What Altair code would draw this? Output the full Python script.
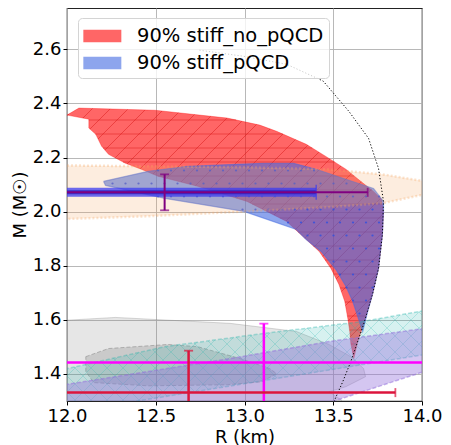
import altair as alt
import pandas as pd
import numpy as np

# ---------------- data ----------------
X0, X1 = 12.0, 14.0
Y0, Y1 = 1.3, 2.753

RED_R = [12.067, 12.496, 12.903, 13.086, 13.181, 13.348, 13.476, 13.571, 13.655, 13.727, 13.772,
         13.783, 13.777, 13.755, 13.721, 13.671, 13.638, 13.616,
         13.599, 13.593, 13.582, 13.565, 13.532, 13.487, 13.421, 13.348, 13.237, 13.014, 12.735,
         12.513, 12.418, 12.329, 12.234, 12.195, 12.162, 12.123, 12.123, 12.000]
RED_M = [2.383, 2.375, 2.346, 2.320, 2.297, 2.249, 2.197, 2.157, 2.112, 2.075, 2.046,
         2.001, 1.916, 1.790, 1.694, 1.583, 1.520, 1.457,
         1.512, 1.557, 1.605, 1.668, 1.731, 1.790, 1.853, 1.897, 1.964, 2.038, 2.094,
         2.131, 2.157, 2.179, 2.212, 2.242, 2.286, 2.309, 2.342, 2.357]

BLUE_R = [12.206, 12.457, 12.680, 12.958, 13.109, 13.276, 13.404, 13.571, 13.727, 13.783,
          13.783, 13.777, 13.755, 13.721, 13.694, 13.666, 13.638, 13.610, 13.571, 13.515,
          13.432, 13.348, 13.292, 12.997, 12.552, 12.217]
BLUE_M = [2.112, 2.149, 2.168, 2.175, 2.179, 2.179, 2.157, 2.120, 2.086, 2.038,
          2.001, 1.916, 1.790, 1.694, 1.631, 1.557, 1.612, 1.668, 1.724, 1.786,
          1.853, 1.897, 1.934, 2.001, 2.049, 2.097]

PEACH_R = [11.955, 12.457, 13.014, 13.460, 13.777, 14.045, 14.045, 13.777, 13.460, 13.014, 12.457, 11.955]
PEACH_M = [2.171, 2.168, 2.164, 2.157, 2.138, 2.109, 2.068, 2.031, 2.016, 2.001, 1.983, 1.972]

TEAL_R = [11.955, 12.551, 13.109, 13.666, 14.045, 14.045, 11.955]
TEAL_M = [1.413, 1.501, 1.550, 1.594, 1.638, 1.475, 1.253]

PURPLE_R = [11.955, 12.919, 13.476, 14.045, 14.045, 13.460, 11.955]
PURPLE_M = [1.357, 1.457, 1.520, 1.571, 1.416, 1.290, 0.964]

GRAY1_R = [11.955, 12.273, 12.919, 13.292, 13.476, 13.599, 13.671, 13.682, 13.571, 13.476, 13.543, 13.599, 11.955]
GRAY1_M = [1.597, 1.609, 1.587, 1.557, 1.509, 1.464, 1.420, 1.390, 1.353, 1.334, 1.305, 1.260, 1.260]

GRAY2_R = [12.106, 12.234, 12.568, 12.735, 12.975, 13.142, 13.181, 13.097, 12.903, 12.457, 12.150, 12.106]
GRAY2_M = [1.464, 1.494, 1.509, 1.501, 1.457, 1.420, 1.401, 1.371, 1.360, 1.356, 1.368, 1.409]

CURVE_R = [12.746, 12.99, 13.237, 13.443, 13.588, 13.699, 13.755, 13.783, 13.777, 13.755, 13.721,
           13.671, 13.599, 13.554, 13.504, 13.49]
CURVE_M = [2.597, 2.575, 2.545, 2.483, 2.371, 2.271, 2.160, 2.038, 1.916, 1.790, 1.694,
           1.583, 1.446, 1.372, 1.298, 1.27]

LEG_NAMES = ["90% stiff_no_pQCD", "90% stiff_pQCD"]

# error bars: centre, horizontal range, vertical range
PURPLE_EB = dict(r=12.55, m=2.0715, r_lo=11.5, r_hi=13.694, m_lo=2.005, m_hi=2.138)
BLUE_BAR = dict(m=2.0715, r_lo=11.5, r_hi=13.404)
MAGENTA_EB = dict(r=13.109, m=1.442, r_lo=11.5, r_hi=14.5, m_lo=1.2, m_hi=1.586)
CRIMSON_EB = dict(r=12.685, m=1.331, r_lo=11.5, r_hi=13.85, m_lo=1.2, m_hi=1.486)

# ---------------- helpers ----------------
W, H = 355, 393
SX = W / (X1 - X0)
SY = H / (Y1 - Y0)


def to_px(R, M):
    return (np.asarray(R) - X0) * SX, (Y1 - np.asarray(M)) * SY


def from_px(X, Y):
    return np.asarray(X) / SX + X0, Y1 - np.asarray(Y) / SY


def hatch(R, M, direction, step):
    X, Y = to_px(R, M)
    n = len(X)
    if direction == "/":
        u = X + Y
    elif direction == "\\":
        u = Y - X
    else:
        u = Y
    rows = []
    c = np.floor(u.min() / step) * step
    while c <= u.max():
        xs = []
        for k in range(n):
            j = (k + 1) % n
            u1, u2 = u[k], u[j]
            if (u1 <= c < u2) or (u2 <= c < u1):
                f = (c - u1) / (u2 - u1)
                xs.append(X[k] + f * (X[j] - X[k]))
        xs.sort()
        for a, b in zip(xs[0::2], xs[1::2]):
            if direction == "/":
                ya, yb = c - a, c - b
            elif direction == "\\":
                ya, yb = c + a, c + b
            else:
                ya = yb = c
            ra, ma = from_px(a, ya)
            rb, mb = from_px(b, yb)
            rows.append(dict(r=float(ra), m=float(ma), r2=float(rb), m2=float(mb)))
        c += step
    return pd.DataFrame(rows)


def inside(px, py, X, Y):
    n = len(X)
    res = False
    j = n - 1
    for i in range(n):
        if (Y[i] > py) != (Y[j] > py):
            xint = (X[j] - X[i]) * (py - Y[i]) / (Y[j] - Y[i]) + X[i]
            if px < xint:
                res = not res
        j = i
    return res


def dots(R, M, step):
    X, Y = to_px(R, M)
    pts = []
    row = 0
    for py in np.arange(step / 2, H, step):
        off = (step / 2) if row % 2 else 0
        for px in np.arange(off, W, step):
            if inside(px, py, X, Y):
                r, m = from_px(px, py)
                pts.append(dict(r=float(r), m=float(m)))
        row += 1
    return pd.DataFrame(pts)


xs = alt.Scale(domain=[X0, X1], nice=False, zero=False, padding=0)
ys = alt.Scale(domain=[Y0, Y1], nice=False, zero=False, padding=0)
fill_scale = alt.Scale(domain=LEG_NAMES, range=["red", "royalblue"])

# legend symbol: a 3:1 rectangle anchored at the left of its layout box
legend = alt.Legend(
    orient="none", legendX=11, legendY=10, title=None,
    symbolType="M-1,-0.5H2V0.5H-1Z", symbolSize=642, symbolOpacity=0.6,
    symbolStrokeWidth=0, labelFontSize=19.5, labelFont="DejaVu Sans", labelColor="black",
    labelOffset=28, padding=5, rowPadding=4, cornerRadius=4, strokeColor="#d4d4d4",
    fillColor="rgba(255,255,255,0.8)", labelLimit=400,
)

X_AX = alt.X("r:Q", scale=xs, title="R (km)",
             axis=alt.Axis(values=[12.0, 12.5, 13.0, 13.5, 14.0], format=".1f"))
Y_AX = alt.Y("m:Q", scale=ys, title="M (M☉)",
             axis=alt.Axis(values=[1.4, 1.6, 1.8, 2.0, 2.2, 2.4, 2.6], format=".1f"))


def poly(R, M, name=None, **mark):
    df = pd.DataFrame({"r": list(R) + [R[0]], "m": list(M) + [M[0]],
                       "i": list(range(len(R) + 1))})
    enc = dict(x=X_AX, y=Y_AX, order=alt.Order("i:Q"))
    if name is not None:
        df["name"] = name
        enc["fill"] = alt.Fill("name:N", scale=fill_scale, legend=legend)
    return alt.Chart(df).mark_line(filled=True, clip=True, **mark).encode(**enc)


def segs(df, **mark):
    return alt.Chart(df).mark_rule(clip=True, **mark).encode(
        x=alt.X("r:Q", scale=xs), y=alt.Y("m:Q", scale=ys),
        x2="r2:Q", y2="m2:Q")


layers = []
# red region
layers.append(poly(RED_R, RED_M, name=LEG_NAMES[0], fillOpacity=0.6, stroke="red",
                   strokeOpacity=0.4, strokeWidth=0.8))
layers.append(segs(hatch(RED_R, RED_M, "/", 18), stroke="#d81818", strokeOpacity=0.55, strokeWidth=0.9))
layers.append(segs(hatch(RED_R, RED_M, "-", 14), stroke="#d81818", strokeOpacity=0.55, strokeWidth=0.9))
# blue region
layers.append(poly(BLUE_R, BLUE_M, name=LEG_NAMES[1], fillOpacity=0.6, stroke="royalblue",
                   strokeOpacity=0.5, strokeWidth=1.2))
layers.append(alt.Chart(dots(BLUE_R, BLUE_M, 13)).mark_circle(size=5, color="#3050e0", opacity=0.8, clip=True)
              .encode(x=alt.X("r:Q", scale=xs), y=alt.Y("m:Q", scale=ys)))
# gray regions
layers.append(poly(GRAY1_R, GRAY1_M, fill="gray", fillOpacity=0.2, stroke="gray",
                   strokeOpacity=0.3, strokeWidth=1))
layers.append(poly(GRAY2_R, GRAY2_M, fill="dimgray", fillOpacity=0.22, stroke="gray",
                   strokeOpacity=0.5, strokeWidth=1, strokeDash=[4, 2]))
# teal band
layers.append(poly(TEAL_R, TEAL_M, fill="lightseagreen", fillOpacity=0.18, stroke="lightseagreen",
                   strokeOpacity=0.35, strokeWidth=1.5, strokeDash=[4, 2]))
layers.append(segs(hatch(TEAL_R, TEAL_M, "/", 16), stroke="lightseagreen", strokeOpacity=0.3, strokeWidth=0.8))
layers.append(segs(hatch(TEAL_R, TEAL_M, "\\", 16), stroke="lightseagreen", strokeOpacity=0.3, strokeWidth=0.8))
# purple band
layers.append(poly(PURPLE_R, PURPLE_M, fill="mediumpurple", fillOpacity=0.4, stroke="mediumpurple",
                   strokeOpacity=0.5, strokeWidth=1.5, strokeDash=[4, 2]))
# peach band
layers.append(poly(PEACH_R, PEACH_M, fill="sandybrown", fillOpacity=0.2, stroke="sandybrown",
                   strokeOpacity=0.3, strokeWidth=2.5, strokeDash=[2, 2]))

# causality-like dotted curve
curve = pd.DataFrame({"r": CURVE_R, "m": CURVE_M, "i": range(len(CURVE_R))})
layers.append(alt.Chart(curve).mark_line(color="black", strokeWidth=1, strokeDash=[1.2, 2], clip=True)
              .encode(x=alt.X("r:Q", scale=xs), y=alt.Y("m:Q", scale=ys), order="i:Q"))


def hbar(d, color, width, opacity=1.0):
    df = pd.DataFrame([dict(r=d["r_lo"], r2=d["r_hi"], m=d["m"])])
    return alt.Chart(df).mark_rule(color=color, strokeWidth=width, opacity=opacity, clip=True).encode(
        x=alt.X("r:Q", scale=xs), x2="r2:Q", y=alt.Y("m:Q", scale=ys))


def vbar(d, color, width):
    df = pd.DataFrame([dict(r=d["r"], m=d["m_lo"], m2=d["m_hi"])])
    return alt.Chart(df).mark_rule(color=color, strokeWidth=width, clip=True).encode(
        x=alt.X("r:Q", scale=xs), y=alt.Y("m:Q", scale=ys), y2="m2:Q")


def cap(r, m, color, orient, size, width=1.8):
    df = pd.DataFrame([dict(r=r, m=m)])
    return alt.Chart(df).mark_tick(color=color, orient=orient, size=size, thickness=width, clip=True).encode(
        x=alt.X("r:Q", scale=xs), y=alt.Y("m:Q", scale=ys))


# blue thick bar + purple errorbar
layers.append(hbar(BLUE_BAR, "#3c3cf0", 9, 0.75))
layers.append(hbar(BLUE_BAR, "#2a1fc0", 4, 0.8))
layers.append(cap(BLUE_BAR["r_hi"], BLUE_BAR["m"], "#3c3cf0", "vertical", 15, 1.5))
layers.append(hbar(PURPLE_EB, "purple", 2))
layers.append(vbar(PURPLE_EB, "purple", 2))
layers.append(cap(PURPLE_EB["r"], PURPLE_EB["m_hi"], "purple", "horizontal", 9))
layers.append(cap(PURPLE_EB["r"], PURPLE_EB["m_lo"], "purple", "horizontal", 9))
layers.append(cap(PURPLE_EB["r_hi"], PURPLE_EB["m"], "purple", "vertical", 9))
# magenta cross
layers.append(hbar(MAGENTA_EB, "magenta", 2.5))
layers.append(vbar(MAGENTA_EB, "magenta", 2.5))
layers.append(cap(MAGENTA_EB["r"], MAGENTA_EB["m_hi"], "magenta", "horizontal", 9))
# crimson cross
layers.append(hbar(CRIMSON_EB, "crimson", 2.5))
layers.append(vbar(CRIMSON_EB, "crimson", 2.5))
layers.append(cap(CRIMSON_EB["r"], CRIMSON_EB["m_hi"], "crimson", "horizontal", 9))
layers.append(cap(CRIMSON_EB["r_hi"], CRIMSON_EB["m"], "crimson", "vertical", 9))

chart = alt.layer(*layers).properties(
    width=W, height=H,
    autosize=alt.AutoSizeParams(type="none"),
    padding={"left": 59, "top": 0, "right": 21, "bottom": 44},
).configure_view(
    stroke="#222222", strokeWidth=1.2
).configure_axis(
    grid=True, gridColor="#b0b0b0", gridWidth=0.9, domain=False,
    tickColor="black", tickSize=4, tickWidth=1, labelFlush=False, labelOverlap=False,
    labelFont="DejaVu Sans", labelFontSize=18, labelColor="black", labelPadding=2,
    titleFont="DejaVu Sans", titleFontSize=18, titleFontWeight="normal", titleColor="black",
).configure_axisX(titlePadding=3).configure_axisY(titlePadding=3)

chart.save("out.html", embed_options={"renderer": "svg", "actions": False})
